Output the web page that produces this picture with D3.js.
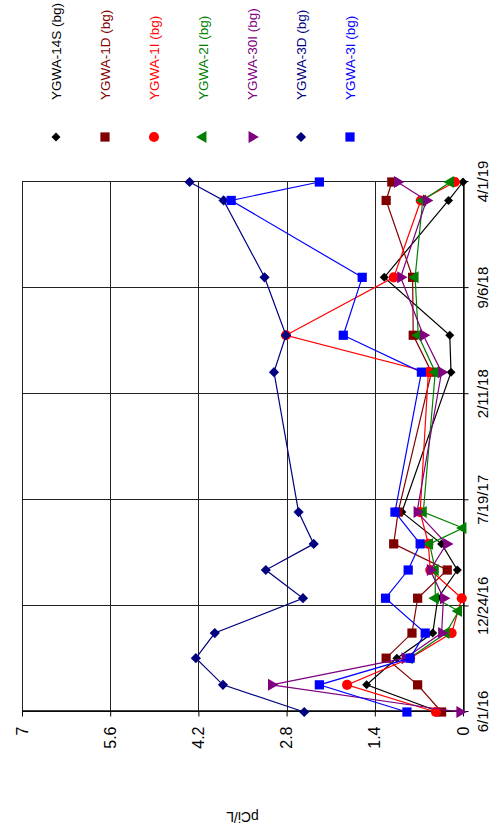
<!DOCTYPE html>
<html>
<head>
<meta charset="utf-8">
<script src="https://cdn.jsdelivr.net/npm/d3@7"></script>
<style>
  html, body { margin: 0; padding: 0; background: #fff; }
  svg { display: block; font-family: 'Liberation Sans', Arial, sans-serif; }
</style>
</head>
<body>
<svg id="chart" width="491" height="833"></svg>
<script>
// sample dates shared by most wells
const sampleDates = ['2016-06-01', '2016-07-24', '2016-09-14', '2016-11-02', '2017-01-09',
  '2017-03-05', '2017-04-25', '2017-06-26', '2018-03-26', '2018-06-06', '2018-09-27',
  '2019-02-24', '2019-04-01']
const sampleDates2I = ['2016-09-14', '2016-11-02', '2016-12-15', '2017-01-09', '2017-03-05',
  '2017-04-25', '2017-05-26', '2017-06-26', '2018-03-26', '2018-06-06', '2018-09-27',
  '2019-02-24', '2019-04-01']

const ygwa14S = [0.37, 1.53, 1.05, 0.48, 0.40, 0.09, 0.34, 0.97, 0.19, 0.21, 1.25, 0.23, 0.0]
const ygwa1D = [0.34, 0.72, 1.22, 0.81, 0.72, 0.25, 1.10, 1.03, 0.50, 0.79, 0.80, 1.22, 1.13]
const ygwa1I = [0.43, 1.84, 0.84, 0.18, 0.02, 0.52, 0.55, 0.68, 0.55, 2.81, 1.10, 0.67, 0.13]
const ygwa2I = [0.85, 0.27, 0.07, 0.44, 0.44, 0.53, 0.0, 0.63, 0.44, 0.71, 0.76, 0.64, 0.20]
const ygwa30I = [0.05, 3.04, 0.92, 0.34, 0.31, 0.52, 0.26, 0.73, 0.34, 0.63, 0.99, 0.58, 1.04]
const ygwa3D = [2.52, 3.81, 4.24, 3.94, 2.54, 3.13, 2.37, 2.61, 3.00, 2.81, 3.15, 3.80, 4.34]
const ygwa3I = [0.89, 2.28, 0.84, 0.60, 1.23, 0.87, 0.68, 1.08, 0.66, 1.90, 1.60, 3.68, 2.28]

const dateTicks = ['2016-06-01', '2016-12-24', '2017-07-19', '2018-02-11', '2018-09-06', '2019-04-01']
const valueTicks = [0, 1.4, 2.8, 4.2, 5.6, 7]
const seriesNames = ['YGWA-14S (bg)', 'YGWA-1D (bg)', 'YGWA-1I (bg)', 'YGWA-2I (bg)',
  'YGWA-30I (bg)', 'YGWA-3D (bg)', 'YGWA-3I (bg)']
const axisTitle = 'pCi/L'

const parse = d3.utcParse('%Y-%m-%d')

const series = [
  { name: seriesNames[0], dates: sampleDates, values: ygwa14S, color: '#000000', marker: 'diamondSmall' },
  { name: seriesNames[1], dates: sampleDates, values: ygwa1D, color: '#800000', marker: 'square' },
  { name: seriesNames[2], dates: sampleDates, values: ygwa1I, color: '#ff0000', marker: 'circle' },
  { name: seriesNames[3], dates: sampleDates2I, values: ygwa2I, color: '#008000', marker: 'triangleUp' },
  { name: seriesNames[4], dates: sampleDates, values: ygwa30I, color: '#800080', marker: 'triangleDown' },
  { name: seriesNames[5], dates: sampleDates, values: ygwa3D, color: '#000080', marker: 'diamond' },
  { name: seriesNames[6], dates: sampleDates, values: ygwa3I, color: '#0000ff', marker: 'square' },
].map(s => ({ ...s, points: s.dates.map((d, i) => ({ date: parse(d), value: s.values[i] })) }))

function markerPath(type) {
  const sym = {
    diamondSmall: [d3.symbolSquare, 40, 45],
    diamond: [d3.symbolSquare, 52, 45],
    square: [d3.symbolSquare, 85, 0],
    circle: [d3.symbolCircle, 80, 0],
    triangleUp: [d3.symbolTriangle, 62, 0],
    triangleDown: [d3.symbolTriangle, 62, 180],
  }[type]
  return { d: d3.symbol(sym[0], sym[1])(), rotate: sym[2] }
}

// the chart is laid out in a landscape frame and then turned a quarter turn
const width = 833
const height = 491
const marginLeft = 121
const marginRight = 182
const marginTop = 22
const marginBottom = 28

const svg = d3.select('#chart')
svg.append('rect').attr('width', 491).attr('height', 833).attr('fill', '#fff')

const frame = svg.append('g').attr('transform', `translate(0,${width}) rotate(-90)`)

const x = d3.scaleUtc()
  .domain([parse(dateTicks[0]), parse(dateTicks[dateTicks.length - 1])])
  .range([marginLeft, width - marginRight])

const y = d3.scaleLinear()
  .domain([0, 7])
  .range([height - marginBottom, marginTop])

// gridlines
frame.append('g')
  .selectAll('line')
  .data(valueTicks)
  .join('line')
  .attr('x1', marginLeft)
  .attr('x2', width - marginRight)
  .attr('y1', d => Math.round(y(d)) + 0.5)
  .attr('y2', d => Math.round(y(d)) + 0.5)
  .attr('stroke', '#222')

frame.append('g')
  .selectAll('line')
  .data(dateTicks)
  .join('line')
  .attr('x1', d => Math.round(x(parse(d))) + 0.5)
  .attr('x2', d => Math.round(x(parse(d))) + 0.5)
  .attr('y1', marginTop)
  .attr('y2', height - marginBottom)
  .attr('stroke', '#222')

// axes
const xAxis = frame.append('g')
  .attr('transform', `translate(0,${Math.round(y(0)) + 0.5})`)
  .call(d3.axisBottom(x)
    .tickValues(dateTicks.map(parse))
    .tickFormat(d3.utcFormat('%-m/%-d/%y'))
    .tickSize(5)
    .tickPadding(8.5)
    .tickSizeOuter(0))
xAxis.select('.domain').attr('stroke', '#000').attr('stroke-width', 1.3)
xAxis.selectAll('text').attr('font-size', 15).attr('fill', '#000').attr('font-family', 'Liberation Sans, Arial, sans-serif')

const yAxis = frame.append('g')
  .attr('transform', `translate(${Math.round(x.range()[0]) + 0.5},0)`)
  .call(d3.axisLeft(y)
    .tickValues(valueTicks)
    .tickFormat(d => String(d))
    .tickSize(5)
    .tickPadding(10)
    .tickSizeOuter(0))
yAxis.select('.domain').attr('stroke', '#000').attr('stroke-width', 1.3)
yAxis.selectAll('text').attr('font-size', 16).attr('fill', '#000').attr('font-family', 'Liberation Sans, Arial, sans-serif')

frame.append('text')
  .attr('transform', `translate(16,${(y(0) + y(7)) / 2}) rotate(-90)`)
  .attr('text-anchor', 'middle')
  .attr('dy', '0.35em')
  .attr('font-size', 14)
  .text(axisTitle)

// series
const line = d3.line().x(d => x(d.date)).y(d => y(d.value))

series.forEach(s => {
  const g = frame.append('g')
  g.append('path')
    .datum(s.points)
    .attr('fill', 'none')
    .attr('stroke', s.color)
    .attr('stroke-width', 1.2)
    .attr('d', line)
  const m = markerPath(s.marker)
  g.selectAll('path.pt')
    .data(s.points)
    .join('path')
    .attr('class', 'pt')
    .attr('d', m.d)
    .attr('transform', d => `translate(${x(d.date)},${y(d.value)}) rotate(${m.rotate})`)
    .attr('fill', s.color)
})

// legend
const legend = frame.append('g')
series.forEach((s, i) => {
  const ly = 56 + i * 49
  const m = markerPath(s.marker)
  legend.append('path')
    .attr('d', m.d)
    .attr('transform', `translate(696,${ly}) rotate(${m.rotate})`)
    .attr('fill', s.color)
  legend.append('text')
    .attr('x', 733)
    .attr('y', ly)
    .attr('dy', '0.35em')
    .attr('font-size', 13.5)
    .attr('fill', s.color)
    .text(s.name)
})
</script>
</body>
</html>
